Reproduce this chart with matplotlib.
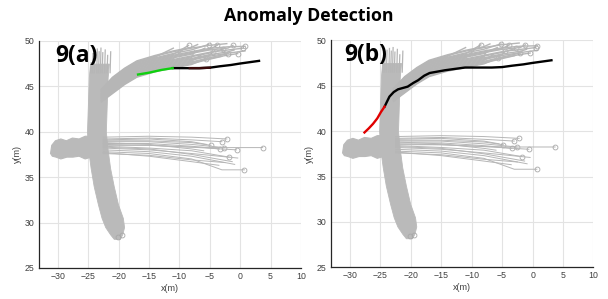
#!/usr/bin/env python3
"""
Anomaly detection: historical trajectories (gray) with the test track
overlaid, normal part in black and the flagged part in colour.
"""

import matplotlib
matplotlib.use('Agg')
import matplotlib.pyplot as plt

# ---- gray background trajectories -------------------------------------
# north-south bundle, left/right edge of the dense band at each y
vert_y = [47.5, 46.0, 44.0, 42.0, 40.0, 38.0, 36.0, 34.0, 32.0, 30.5, 29.5, 28.7, 28.2]
vert_xl = [-24.7, -24.9, -25.0, -25.1, -25.2, -25.0, -24.6, -24.1, -23.4, -22.8, -22.2, -21.4, -20.8]
vert_xr = [-21.6, -21.8, -21.9, -22.0, -22.1, -21.8, -21.4, -20.8, -20.1, -19.3, -19.1, -19.4, -19.8]
# loose line ends sticking out of the top of the band
vert_top_x = [-24.6, -24.3, -24.0, -23.6, -23.3, -23.0, -22.7, -22.3, -21.9, -21.4]
vert_top_y = [47.6, 48.6, 48.9, 49.1, 48.8, 49.2, 48.7, 49.0, 48.4, 48.8]
vert_end_x = [-20.1, -19.5]
vert_end_y = [28.4, 28.6]

# west stub (dense blob left of the crossing)
blob_x = [-31.2, -31.0, -30.4, -29.5, -28.6, -27.6, -26.5, -25.5, -24.5,
          -24.5, -25.5, -26.5, -27.5, -28.5, -29.5, -30.3, -30.9]
blob_y = [37.6, 38.5, 39.0, 39.2, 39.0, 39.3, 39.2, 39.5, 39.5,
          37.2, 37.0, 37.3, 37.2, 37.2, 37.0, 37.2, 37.3]

# east bundle: y at x=-22.5, -15, -8, then end point
east_y0 = [39.4, 39.2, 39.0, 38.9, 38.7, 38.6, 38.5, 38.4, 38.2, 38.0, 37.8, 38.3, 37.6, 39.1, 38.8, 37.7]
east_y1 = [39.5, 39.3, 39.0, 38.9, 38.7, 38.5, 38.5, 38.2, 38.0, 37.8, 37.6, 38.1, 37.4, 39.2, 38.6, 37.3]
east_y2 = [39.4, 39.1, 38.8, 38.6, 38.4, 38.3, 38.3, 37.9, 37.6, 37.3, 37.0, 37.5, 36.9, 38.9, 38.1, 36.7]
east_end_x = [-2.2, -3.0, -4.8, -2.6, -3.4, -0.6, 3.7, -1.8, -0.4, -0.9, 0.7, -1.3, -2.5, -5.5, -6.0, -3.5]
east_end_y = [39.2, 38.9, 38.5, 38.25, 38.1, 38.0, 38.25, 37.2, 37.1, 36.4, 35.8, 36.7, 36.6, 38.6, 37.9, 36.3]
east_circle = [1, 1, 1, 1, 1, 1, 1, 1, 0, 0, 1, 0, 0, 0, 0, 0]

# north-east bundle: lower/upper edge of the fan, lines placed by fraction
ne_x = [-22.8, -21.0, -19.0, -17.0, -14.0, -11.0, -8.0, -5.0, -2.0, 1.0]
ne_lo = [43.3, 44.2, 45.2, 46.0, 46.6, 47.0, 47.4, 47.9, 48.3, 48.6]
ne_hi = [44.7, 46.0, 47.0, 47.8, 48.4, 48.9, 49.3, 49.6, 49.7, 49.6]
ne_frac = [0.0, 0.05, 0.1, 0.15, 0.2, 0.25, 0.3, 0.35, 0.4, 0.45, 0.5,
           0.55, 0.6, 0.65, 0.7, 0.75, 0.8, 0.85, 0.9, 0.95, 1.0]
ne_end_x = [-5.6, -3.0, -0.4, -2.0, -6.5, 0.8, -4.5, -1.0, -7.5, -2.8, 0.5,
            -9.5, -5.8, -1.2, -3.8, 0.8, -8.5, -5.2, -11.0, -2.2, -7.0]
ne_end_y = [48.05, 48.3, 48.6, 48.6, 48.4, 48.9, 48.8, 49.0, 48.9, 49.1, 49.2,
            49.0, 49.2, 49.5, 49.5, 49.4, 49.5, 49.6, 49.2, 49.7, 49.6]
ne_circle = [1, 0, 1, 1, 0, 0, 1, 0, 0, 1, 1, 0, 0, 1, 1, 1, 1, 1, 0, 0, 0]

# ---- test trajectory ----------------------------------------------------
# 9(a): flagged start (green) then normal (black)
a_green_x = [-16.8, -15.0, -13.0, -11.1]
a_green_y = [46.3, 46.5, 46.8, 47.0]
a_black_x = [-11.1, -8.5, -6.7, -5.0, -3.4, -1.5, -0.1, 1.5, 3.1]
a_black_y = [47.0, 47.0, 47.0, 47.05, 47.2, 47.35, 47.5, 47.65, 47.8]
a_dark_x = [-8.3, -6.7, -5.0]
a_dark_y = [47.0, 47.0, 47.05]

# 9(b): flagged start (red) then normal (black)
b_red_x = [-27.6, -26.9, -26.2, -25.5, -24.9, -24.3]
b_red_y = [39.85, 40.3, 40.8, 41.4, 42.1, 42.7]
b_black_x = [-24.3, -23.5, -22.8, -22.1, -21.3, -20.5, -19.6, -18.8, -17.8, -16.9,
             -14.4, -11.1, -8.5, -6.7, -5.0, -3.4, -1.5, -0.1, 1.5, 3.1]
b_black_y = [42.7, 43.8, 44.3, 44.6, 44.75, 44.9, 45.3, 45.6, 46.1, 46.4,
             46.7, 47.0, 47.0, 47.0, 47.05, 47.2, 47.35, 47.5, 47.65, 47.8]

GRAY = '#bababa'
LINE_GRAY = '#b6b6b6'
MARK_GRAY = '#a8a8a8'


def draw_history(ax):
    """Draw the gray bundles of past trajectories."""
    # north-south band
    ax.fill_betweenx(vert_y, vert_xl, vert_xr, color=GRAY, lw=0.6, edgecolor=GRAY, zorder=2)
    for xt, yt in zip(vert_top_x, vert_top_y):
        ax.plot([xt, xt + 0.1], [46.5, yt], color=LINE_GRAY, lw=0.9, zorder=2)
    ax.plot(vert_end_x, vert_end_y, 'o', mfc='none', mec=MARK_GRAY, ms=3.5, mew=0.6, zorder=2)

    # west blob
    ax.fill(blob_x, blob_y, color=GRAY, lw=0.8, edgecolor=GRAY, zorder=2)

    # east bundle
    for i in range(len(east_y0)):
        xs = [-22.5, -15.0, -8.0, east_end_x[i]]
        ys = [east_y0[i], east_y1[i], east_y2[i], east_end_y[i]]
        if east_end_x[i] > 0:
            xs.insert(3, -3.0)
            ys.insert(3, east_end_y[i])
        ax.plot(xs, ys, color=LINE_GRAY, lw=0.7, zorder=2)
        if east_circle[i]:
            ax.plot(east_end_x[i], east_end_y[i], 'o', mfc='none', mec=MARK_GRAY,
                    ms=3.5, mew=0.6, zorder=2)

    # north-east bundle
    for f, ex, ey, c in zip(ne_frac, ne_end_x, ne_end_y, ne_circle):
        xs, ys = [], []
        for x, lo, hi in zip(ne_x, ne_lo, ne_hi):
            if x < ex:
                xs.append(x)
                ys.append(lo + f * (hi - lo))
        xs.append(ex)
        ys.append(ey)
        ax.plot(xs, ys, color=LINE_GRAY, lw=1.0, zorder=2)
        if c:
            ax.plot(ex, ey, 'o', mfc='none', mec=MARK_GRAY, ms=3.5, mew=0.6, zorder=2)


def style_axes(ax):
    ax.set_xlim(-33.1, 10)
    ax.set_ylim(25, 50)
    ax.set_xticks(range(-30, 11, 5))
    ax.set_yticks(range(25, 51, 5))
    ax.grid(True, color='#e3e3e3', lw=0.8, zorder=0)
    ax.set_axisbelow(True)
    for s in ['top', 'right']:
        ax.spines[s].set_visible(False)
    for s in ['left', 'bottom']:
        ax.spines[s].set_color('#262626')
        ax.spines[s].set_linewidth(0.9)
    ax.tick_params(length=0, labelsize=6.3, labelcolor='#404040', pad=3)
    ax.set_xlabel('x(m)', fontsize=6.5, color='#404040', labelpad=2)
    ax.set_ylabel('y(m)', fontsize=6.5, color='#404040', labelpad=2)


plt.rcParams['font.family'] = ['Liberation Sans', 'DejaVu Sans']

fig = plt.figure(figsize=(6.08, 2.99), dpi=100)
ax1 = fig.add_axes([0.0641, 0.104, 0.4309, 0.7592])
ax2 = fig.add_axes([0.5444, 0.106, 0.4317, 0.7592])

for ax in (ax1, ax2):
    draw_history(ax)
    style_axes(ax)

# 9(a)
ax1.plot(a_black_x, a_black_y, color='black', lw=1.7, zorder=4)
ax1.plot(a_dark_x, a_dark_y, color='#3a0a0a', lw=1.7, zorder=4)
ax1.plot(a_green_x, a_green_y, color='#10d010', lw=1.7, zorder=4)
ax1.text(-30.5, 47.7, '9(a)', fontsize=16.5, fontweight='bold', family='Open Sans', zorder=5)

# 9(b)
ax2.plot(b_black_x, b_black_y, color='black', lw=1.7, zorder=4)
ax2.plot(b_red_x, b_red_y, color='#e00000', lw=1.7, zorder=4)
ax2.text(-31.0, 47.7, '9(b)', fontsize=16.5, fontweight='bold', family='Open Sans', zorder=5)

fig.text(0.508, 0.948, 'Anomaly Detection', ha='center', va='center',
         fontsize=12.8, fontweight='bold', family='Open Sans')

plt.savefig('out.png', dpi=100)
